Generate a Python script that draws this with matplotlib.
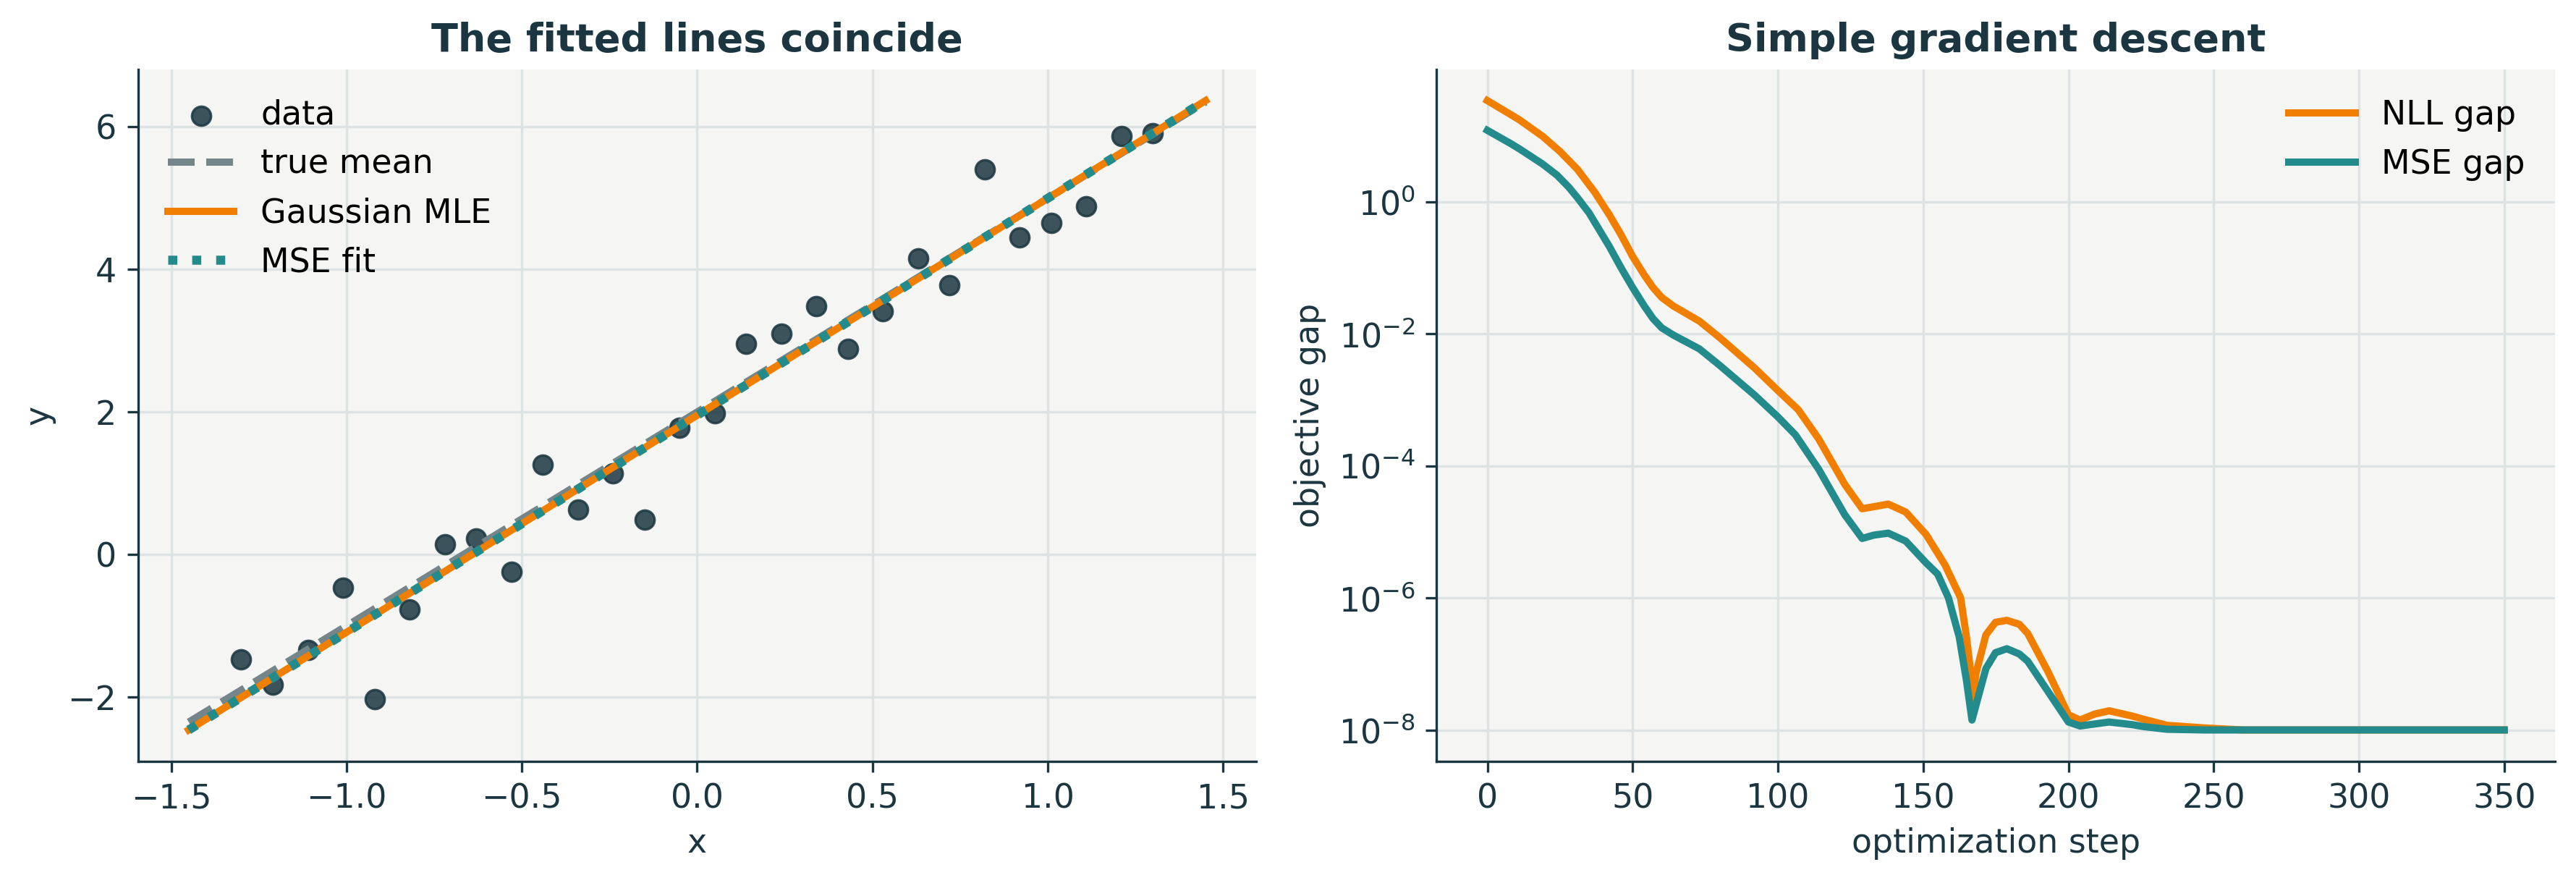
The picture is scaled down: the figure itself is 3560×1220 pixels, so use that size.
import matplotlib
matplotlib.use("Agg")
import matplotlib.pyplot as plt
import numpy as np
from matplotlib.ticker import NullLocator

# --- left panel: noisy samples and the fitted lines ---
x_data = [-1.30, -1.21, -1.11, -1.01, -0.92, -0.82, -0.72, -0.63, -0.53, -0.44,
          -0.34, -0.24, -0.15, -0.05, 0.05, 0.14, 0.24, 0.34, 0.43, 0.53,
          0.63, 0.72, 0.82, 0.92, 1.01, 1.11, 1.21, 1.30]
y_data = [-1.47, -1.82, -1.34, -0.46, -2.03, -0.77, 0.14, 0.23, -0.24, 1.26,
          0.63, 1.14, 0.49, 1.78, 1.98, 2.96, 3.10, 3.49, 2.89, 3.41,
          4.16, 3.78, 5.41, 4.45, 4.65, 4.89, 5.87, 5.91]

line_x = [-1.45, 1.45]
true_mean_y = [-2.35, 6.35]
mle_y = [-2.46, 6.37]
mse_fit_y = [-2.46, 6.37]

# --- right panel: objective gap vs step (log10 of the gap) ---
nll_steps = [0, 8, 11, 19, 25, 31, 37, 42, 46, 50, 54, 57, 60, 64, 73, 80, 92, 100, 107,
             114, 123, 129, 133, 138, 144, 151, 157.5, 162.9, 164.9, 166.4, 166.8,
             168.2, 171.6, 174.9, 178.8, 183.1, 186, 193, 200, 204, 209, 214, 222,
             226, 234, 247, 260, 350]
nll_gap_log10 = [1.53, 1.32, 1.24, 0.99, 0.76, 0.49, 0.14, -0.20, -0.50, -0.83,
                 -1.11, -1.30, -1.45, -1.58, -1.81, -2.06,
                 -2.52, -2.86, -3.15, -3.59, -4.28, -4.65, -4.62, -4.58, -4.70,
                 -5.04, -5.50, -6.00, -6.59, -7.14, -7.62, -7.14, -6.56, -6.37,
                 -6.34, -6.40, -6.54, -7.12, -7.77, -7.85, -7.76, -7.71, -7.79,
                 -7.84, -7.93, -7.97, -8.0, -8.0]

mse_steps = [0, 8, 11, 19, 24, 28, 31, 35, 42, 46, 50, 54, 57, 60, 64, 73, 80, 92, 100,
             106, 114, 123, 129, 133, 138, 144, 151, 155, 158.7, 162.4, 164.9, 166.8,
             168.7, 171.6, 174.9, 178.8, 183.1, 186, 193, 200, 204, 214, 222, 226,
             234, 247, 350]
mse_gap_log10 = [1.08, 0.88, 0.80, 0.57, 0.40, 0.22, 0.06, -0.17, -0.68, -1.00, -1.30,
                 -1.58, -1.77, -1.91, -2.02, -2.23,
                 -2.48, -2.93, -3.26, -3.53, -4.05, -4.74, -5.10, -5.05, -5.02,
                 -5.14, -5.47, -5.64, -6.00, -6.59, -7.25, -7.85, -7.54, -7.07,
                 -6.83, -6.77, -6.85, -6.96, -7.42, -7.88, -7.94, -7.88, -7.92,
                 -7.95, -7.99, -8.0, -8.0]

gap_ticks = [1e0, 1e-2, 1e-4, 1e-6, 1e-8]

# colours
INK = '#1b3640'
ORANGE = '#f07f00'
TEAL = '#238b8b'
GRAY = '#74868a'
PANEL = '#f5f5f3'
GRID = '#dde3e3'

plt.rcParams.update({
    'font.family': 'DejaVu Sans',
    'axes.labelcolor': INK,
    'xtick.color': INK,
    'ytick.color': INK,
    'axes.edgecolor': INK,
    'xtick.labelsize': 11,
    'ytick.labelsize': 11,
    'axes.labelsize': 11,
    'legend.fontsize': 11,
})

fig, (ax1, ax2) = plt.subplots(1, 2, figsize=(3561 / 300, 1220 / 300), dpi=300)
fig.subplots_adjust(left=0.0535, right=0.9916, bottom=0.1377, top=0.9217, wspace=0.161)

for ax in (ax1, ax2):
    ax.set_facecolor(PANEL)
    ax.grid(True, color=GRID, linewidth=0.8)
    ax.set_axisbelow(True)
    ax.spines['top'].set_visible(False)
    ax.spines['right'].set_visible(False)

# left
ax1.scatter(x_data, y_data, s=40, color=INK, alpha=0.85, edgecolor=INK,
            linewidth=0.8, label='data')
ax1.plot(line_x, true_mean_y, color=GRAY, linestyle='--', linewidth=2.4, label='true mean')
ax1.plot(line_x, mle_y, color=ORANGE, linewidth=2.4, label='Gaussian MLE')
ax1.plot(line_x, mse_fit_y, color=TEAL, linestyle=':', linewidth=3.0, label='MSE fit')
ax1.set_xlabel('x')
ax1.set_ylabel('y')
ax1.set_title('The fitted lines coincide', fontsize=13, fontweight='bold', color=INK)
ax1.legend(loc='upper left', frameon=False)

# right
ax2.plot(nll_steps, 10 ** np.array(nll_gap_log10), color=ORANGE, linewidth=2.4, label='NLL gap')
ax2.plot(mse_steps, 10 ** np.array(mse_gap_log10), color=TEAL, linewidth=2.4, label='MSE gap')
ax2.set_yscale('log')
ax2.set_yticks(gap_ticks)
ax2.yaxis.set_minor_locator(NullLocator())
ax2.set_xlabel('optimization step')
ax2.set_ylabel('objective gap')
ax2.set_title('Simple gradient descent', fontsize=13, fontweight='bold', color=INK)
ax2.legend(loc='upper right', frameon=False)

fig.savefig('out.png', dpi=300)
